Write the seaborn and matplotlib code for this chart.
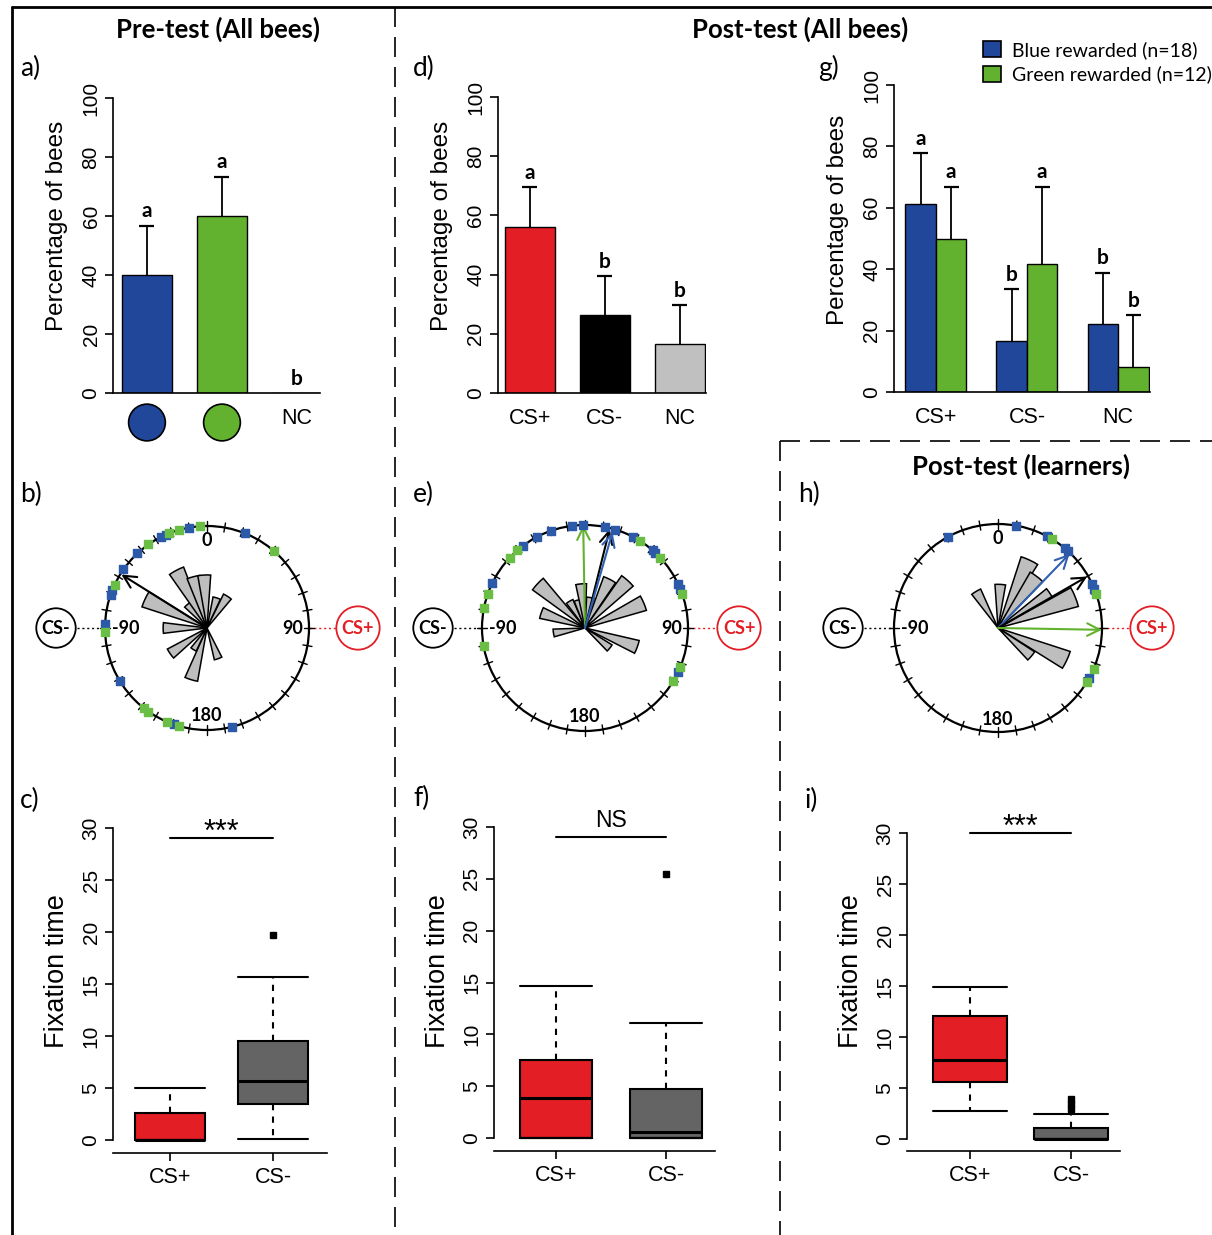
import numpy as np
import pandas as pd
import matplotlib
matplotlib.use('Agg')
import matplotlib.pyplot as plt
from matplotlib.lines import Line2D
import seaborn as sns

W, H = 1212, 1235

BLUE = '#21479b'
GREEN = '#63b22f'
RED = '#e31e24'
DARK = '#646464'
LIGHT = '#c0c0c0'
ROSE = '#bebebe'
SQ_BLUE = '#2d5aa8'
SQ_GREEN = '#6abd45'

# ---- a) pre-test, all bees ----
pre_cats = ['Blue', 'Green', 'NC']
pre_pct = [40.0, 60.0, 0.0]
pre_err = [16.7, 13.3, 0.0]
pre_letters = ['a', 'a', 'b']

# ---- d) post-test, all bees ----
post_cats = ['CS+', 'CS-', 'NC']
post_pct = [56.0, 26.3, 16.6]
post_err = [13.5, 13.2, 13.1]
post_letters = ['a', 'b', 'b']

# ---- g) post-test by group ----
group_names = ['Blue rewarded (n=18)', 'Green rewarded (n=12)']
blue_pct = [61.1, 16.7, 22.2]
blue_err = [16.6, 16.7, 16.7]
green_pct = [50.0, 41.7, 8.3]
green_err = [16.8, 25.1, 16.7]
blue_letters = ['a', 'b', 'b']
green_letters = ['a', 'a', 'b']

# ---- fixation times (c, f, i) ----
pre_fix_plus = [0, 0, 0, 0, 0, 1.3, 2.6, 3.8, 5.0]
pre_fix_minus = [0.1, 2.0, 3.5, 4.6, 5.7, 7.6, 9.5, 15.7, 19.7]
post_fix_plus = [0, 0, 0, 2.0, 3.9, 5.6, 7.5, 11.0, 14.7]
post_fix_minus = [0, 0, 0, 0.3, 0.6, 2.5, 4.7, 11.1, 25.5]
learn_fix_plus = [2.7, 4.2, 5.6, 6.7, 7.7, 9.9, 12.1, 13.6, 14.9]
learn_fix_minus = [0, 0, 0, 0, 0, 0, 0, 0, 0, 0.3, 0.6, 0.9, 1.05, 2.45, 2.9, 3.4, 3.9]

# ---- circular data (degrees, 0 = up, clockwise) ----
pre_rose_ang = [-163, -148, -125, -90, -65, -40, -28, -15, -3, 18, 33, 160]
pre_rose_len = [0.53, 0.25, 0.44, 0.43, 0.67, 0.30, 0.64, 0.52, 0.52, 0.31, 0.37, 0.32]
pre_sq_blue = [-10, -24, -27, -43, -55, -68, -71, -88, -121, -161, 166, 22]
pre_sq_green = [-4, -16, -22, -35, -65, -92, -142, -145, -157, -164, 41]
pre_arrows = [(-58, 0.99, 'black')]

post_rose_ang = [-47, -71, -99, -30, -15, -5, 10, 27, 42, 67, 110, 129]
post_rose_len = [0.63, 0.45, 0.31, 0.30, 0.28, 0.43, 0.30, 0.53, 0.62, 0.62, 0.54, 0.31]
post_sq_blue = [-1, -7, -19, -28, -37, -64, 11, 17, 28, 41, 43, 65, 68, 115]
post_sq_green = [-41, -47, -71, -79, -100, 32, 47, 71, 112, 121]
post_arrows = [(-1, 1.0, GREEN), (14, 0.99, 'black'), (16, 0.97, '#3060b0')]

learn_rose_ang = [-31, 3, 25, 37, 58, 68, 115, 130]
learn_rose_len = [0.41, 0.42, 0.72, 0.62, 0.60, 0.80, 0.73, 0.42]
learn_sq_blue = [10, -29, 28, 40, 42, 65, 68, 119]
learn_sq_green = [31, 71, 113, 121]
learn_arrows = [(44, 0.99, '#3060b0'), (60, 0.99, 'black'), (91, 1.0, GREEN)]

sns.set_style('ticks', {'axes.edgecolor': 'black', 'xtick.color': 'black', 'ytick.color': 'black',
                        'text.color': 'black', 'axes.labelcolor': 'black'})
plt.rcParams['font.family'] = ['Liberation Sans', 'DejaVu Sans']
HEAD = ['Lato', 'DejaVu Sans']

fig = plt.figure(figsize=(W / 100, H / 100), dpi=100)


def add_ax(left, top, right, bottom, **kw):
    return fig.add_axes([left / W, 1 - bottom / H, (right - left) / W, (bottom - top) / H], **kw)


def fig_text(x, y, s, **kw):
    fig.text(x / W, 1 - y / H, s, **kw)


def fig_line(x0, y0, x1, y1, dashed=False, lw=1.2):
    ls = (0, (12, 6)) if dashed else '-'
    fig.add_artist(Line2D([x0 / W, x1 / W], [1 - y0 / H, 1 - y1 / H], color='black', lw=lw, ls=ls))


def rot_yticks(ax):
    ax.tick_params(axis='y', labelrotation=90, length=6, width=1.2, labelsize=15, pad=3)
    for t in ax.get_yticklabels():
        t.set_va('center')
    ax.spines['left'].set_linewidth(1.2)
    ax.spines['bottom'].set_linewidth(1.2)


def bar_decor(ax, errs, letters, width_px, label_y):
    bars = sorted([p for c in ax.containers for p in c.patches], key=lambda p: p.get_x())
    x0, x1 = ax.get_xlim()
    cap = 7.5 * (x1 - x0) / width_px
    for p, e, lt in zip(bars, errs, letters):
        cx = p.get_x() + p.get_width() / 2
        h = p.get_height()
        if e > 0:
            ax.vlines(cx, h, h + e, color='black', lw=1.3)
            ax.hlines(h + e, cx - cap, cx + cap, color='black', lw=1.6)
        ax.text(cx, h + e + 1.5, lt, ha='center', va='bottom', fontsize=15, fontweight='bold',
                family=HEAD)
    sns.despine(ax=ax)
    ax.set_ylim(0, 100)
    ax.set_yticks(range(0, 101, 20))
    rot_yticks(ax)
    ax.tick_params(axis='x', length=0, labelsize=15.5, pad=11)
    ax.set_xlabel('')
    ax.set_ylabel('Percentage of bees', fontsize=17.5, labelpad=10)
    ax.yaxis.label.set_y(label_y)


# ---------------- a) ----------------
ax_a = add_ax(113, 98, 320, 393)
sns.barplot(x=pre_cats, y=pre_pct, hue=pre_cats, palette=[BLUE, GREEN, LIGHT], legend=False,
            width=0.667, saturation=1, edgecolor='black', linewidth=1, ax=ax_a)
ax_a.set_xlim(-0.453, 2.307)
bar_decor(ax_a, pre_err, pre_letters, 207, 0.566)
ax_a.set_xticks([0, 1, 2])
ax_a.set_xticklabels(['', '', 'NC'])
ax_a.scatter([0, 1], [-10, -10], s=700, c=[BLUE, GREEN], edgecolors='black', linewidths=1.2,
             clip_on=False, zorder=5)

# ---------------- d) ----------------
ax_d = add_ax(498, 97, 706, 393)
sns.barplot(x=post_cats, y=post_pct, hue=post_cats, palette=[RED, 'black', LIGHT], legend=False,
            width=0.667, saturation=1, edgecolor='black', linewidth=1, ax=ax_d)
ax_d.set_xlim(-0.427, 2.35)
bar_decor(ax_d, post_err, post_letters, 208, 0.566)

# ---------------- g) ----------------
ax_g = add_ax(894, 85, 1150, 392)
df_g = pd.DataFrame({'stim': post_cats * 2,
                     'group': [group_names[0]] * 3 + [group_names[1]] * 3,
                     'pct': blue_pct + green_pct})
sns.barplot(data=df_g, x='stim', y='pct', hue='group', palette=[BLUE, GREEN], width=0.67,
            saturation=1, edgecolor='black', linewidth=1, ax=ax_g)
ax_g.set_xlim(-0.459, 2.35)
g_err = [v for pair in zip(blue_err, green_err) for v in pair]
g_let = [v for pair in zip(blue_letters, green_letters) for v in pair]
bar_decor(ax_g, g_err, g_let, 256, 0.56)
sns.move_legend(ax_g, 'upper left', bbox_to_anchor=(983 / W, 1 - 41 / H), bbox_transform=fig.transFigure,
                frameon=False, title=None, prop={'family': HEAD, 'size': 14}, handlelength=0.95,
                handleheight=0.85, handletextpad=0.55, labelspacing=0.35, borderaxespad=0, borderpad=0)
for hd in ax_g.get_legend().legend_handles:
    hd.set_edgecolor('black')
    hd.set_linewidth(1.2)


# ---------------- box plots ----------------
def box_panel(left, right, y0, y30, spine_y, xc0, xc1, plus, minus, width, sig_y, sig_txt, label_y):
    unit = (y0 - y30) / 30
    top = y30 - 0.8 * unit
    bottom = y0 + 0.8 * unit
    ax = add_ax(left, top, right, bottom)
    df = pd.DataFrame({'cond': ['CS+'] * len(plus) + ['CS-'] * len(minus), 'time': plus + minus})
    sns.boxplot(data=df, x='cond', y='time', hue='cond', palette=[RED, DARK], legend=False,
                width=width, saturation=1, linecolor='black', linewidth=1.5, whis=1.5,
                whiskerprops=dict(linestyle=(0, (3, 3))), medianprops=dict(linewidth=2.2),
                flierprops=dict(marker='s', markersize=4.5, markerfacecolor='black',
                                markeredgecolor='black'), ax=ax)
    for line in ax.lines:
        xd = np.asarray(line.get_xdata(), dtype=float)
        yd = np.asarray(line.get_ydata(), dtype=float)
        if len(xd) == 2 and yd[0] == yd[1] and abs(xd[1] - xd[0]) < 0.9 * width:
            c = (xd[0] + xd[1]) / 2
            line.set_xdata([c - width / 2, c + width / 2])
            line.set_linestyle('-')
    step = xc1 - xc0
    ax.set_xlim((left - xc0) / step, (right - xc0) / step)
    ax.set_ylim(-0.8, 30.8)
    ax.set_yticks(range(0, 31, 5))
    sns.despine(ax=ax, offset={'bottom': (spine_y - bottom) * 0.72})
    ax.spines['left'].set_bounds(0, 30)
    rot_yticks(ax)
    ax.tick_params(axis='x', length=6, width=1.2, labelsize=15.5, pad=4)
    ax.set_xlabel('')
    ax.set_ylabel('Fixation time', fontsize=19.5, labelpad=8.5)
    ax.yaxis.label.set_y(label_y)
    ax.plot([0, 1], [sig_y, sig_y], color='black', lw=1.5, clip_on=False)
    if sig_txt == 'NS':
        ax.text(0.5, sig_y + 1.0, sig_txt, ha='center', va='baseline', fontsize=16.5, clip_on=False)
    else:
        ax.text(0.5, sig_y - 0.25, sig_txt, ha='center', va='baseline', fontsize=22, clip_on=False)
    return ax


box_panel(113, 327, 1140, 828, 1153, 170, 273, pre_fix_plus, pre_fix_minus, 0.68, 29, '***', 0.54)
box_panel(494, 715, 1138, 827, 1151, 556, 666, post_fix_plus, post_fix_minus, 0.65, 29, 'NS', 0.535)
box_panel(907, 1120, 1139, 833, 1151, 970, 1071, learn_fix_plus, learn_fix_minus, 0.74, 30, '***', 0.545)


# ---------------- circular plots ----------------
def circle_panel(cx, cy, R, rose_ang, rose_len, sq_blue, sq_green, arrows, num_labels, csm_x, csp_x):
    ax = add_ax(cx - R, cy - R, cx + R, cy + R, projection='polar')
    ax.set_theta_zero_location('N')
    ax.set_theta_direction(-1)
    ax.set_ylim(0, 1)
    ax.grid(False)
    ax.set_xticks([])
    ax.set_yticks([])
    ax.spines['polar'].set_linewidth(1.6)
    ax.bar(np.deg2rad(rose_ang), rose_len, width=np.deg2rad(14), color=ROSE, edgecolor='black',
           linewidth=1.1, zorder=2)
    for deg in range(0, 360, 10):
        t = np.deg2rad(deg)
        ax.plot([t, t], [0.955, 1.045], color='black', lw=1, clip_on=False, zorder=3)
    ax.scatter(np.deg2rad(sq_blue), np.ones(len(sq_blue)), marker='s', s=28, color=SQ_BLUE,
               clip_on=False, zorder=5)
    ax.scatter(np.deg2rad(sq_green), np.ones(len(sq_green)), marker='s', s=28, color=SQ_GREEN,
               clip_on=False, zorder=5)
    for ang, ln, col in arrows:
        ax.annotate('', xy=(np.deg2rad(ang), ln), xytext=(0, 0),
                    arrowprops=dict(arrowstyle='->,head_length=0.9,head_width=0.45', color=col,
                                    lw=1.5, shrinkA=0, shrinkB=0), zorder=4)
    for ang, r, s in num_labels:
        ax.text(np.deg2rad(ang), r, s, ha='center', va='center', fontsize=13, fontweight='bold',
                family=HEAD, zorder=6)
    fx = lambda x: (x - (cx - R)) / (2 * R)
    ax.text(fx(csm_x), 0.5, 'CS-', transform=ax.transAxes, ha='center', va='center', fontsize=13,
            fontweight='bold', family=HEAD, clip_on=False,
            bbox=dict(boxstyle='circle,pad=0.3', fc='white', ec='black', lw=1.3))
    ax.text(fx(csp_x), 0.5, 'CS+', transform=ax.transAxes, ha='center', va='center', fontsize=13,
            fontweight='bold', family=HEAD, color=RED, clip_on=False,
            bbox=dict(boxstyle='circle,pad=0.3', fc='white', ec=RED, lw=1.3))
    ax.plot([fx(csm_x + 21), 0], [0.5, 0.5], transform=ax.transAxes, ls=(0, (1.5, 2)), color='black',
            lw=1, clip_on=False)
    ax.plot([1, fx(csp_x - 21)], [0.5, 0.5], transform=ax.transAxes, ls=(0, (1.5, 2)), color=RED,
            lw=1, clip_on=False)
    return ax


circle_panel(207, 628, 102, pre_rose_ang, pre_rose_len, pre_sq_blue, pre_sq_green, pre_arrows,
             [(0, 0.86, '0'), (-90, 0.80, '-90'), (90, 0.84, '90'), (180, 0.86, '180')], 56, 358)
circle_panel(585, 628, 103, post_rose_ang, post_rose_len, post_sq_blue, post_sq_green, post_arrows,
             [(-90, 0.80, '-90'), (90, 0.84, '90'), (180, 0.86, '180')], 433, 739)
circle_panel(998, 628, 104, learn_rose_ang, learn_rose_len, learn_sq_blue, learn_sq_green, learn_arrows,
             [(0, 0.86, '0'), (-90, 0.80, '-90'), (180, 0.88, '180')], 843, 1152)

# ---------------- frame, titles, panel letters ----------------
fig_line(12, 7, 1212, 7, lw=2)
fig_line(12, 7, 12, 1235, lw=2)
fig_line(395, 7, 395, 1235, dashed=True)
fig_line(780, 441, 780, 1235, dashed=True)
fig_line(780, 441, 1212, 441, dashed=True)

fig_text(218, 29, 'Pre-test (All bees)', ha='center', va='center', fontsize=18.5, fontweight='bold', family=HEAD)
fig_text(800, 29, 'Post-test (All bees)', ha='center', va='center', fontsize=18.5, fontweight='bold', family=HEAD)
fig_text(1021, 466, 'Post-test (learners)', ha='center', va='center', fontsize=18.5, fontweight='bold', family=HEAD)

for x, y, s in [(20, 68, 'a)'), (20, 494, 'b)'), (20, 800, 'c)'),
                (413, 68, 'd)'), (413, 494, 'e)'), (413, 798, 'f)'),
                (818, 68, 'g)'), (798, 494, 'h)'), (804, 800, 'i)')]:
    fig_text(x, y, s, ha='left', va='center', fontsize=19, family=HEAD)

fig.savefig('out.png', dpi=100, facecolor='white')
